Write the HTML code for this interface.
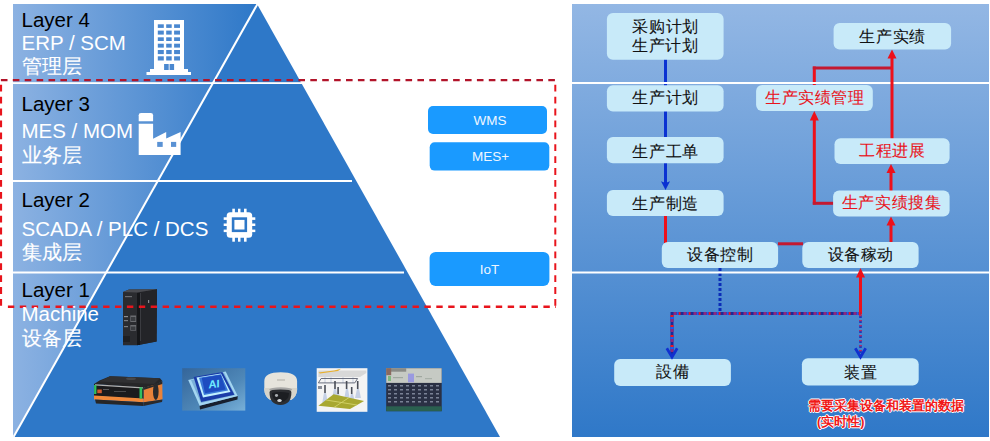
<!DOCTYPE html>
<html><head><meta charset="utf-8">
<style>
html,body{margin:0;padding:0;background:#fff;}
body{width:990px;height:441px;overflow:hidden;position:relative;font-family:"Liberation Sans",sans-serif;}
svg{position:absolute;left:0;top:0;}
.t{position:absolute;white-space:nowrap;line-height:23px;font-size:20.5px;}
.k{color:#000;}
.w{color:#fff;}
.bb{position:absolute;color:#eef6ff;font-size:13.5px;text-align:center;}
.bx{position:absolute;font-size:16px;line-height:18px;text-align:center;color:#111;white-space:nowrap;letter-spacing:0.6px;text-indent:0.6px;-webkit-text-stroke:0.1px currentColor;}
.r{color:#e8141c;}
.note{position:absolute;font-size:12.7px;line-height:16px;font-weight:bold;color:#f01818;white-space:nowrap;text-shadow:0 0 1px #fff,1px 0 0 #fff,-1px 0 0 #fff,0 1px 0 #fff,0 -1px 0 #fff;}
</style></head><body>
<svg width="990" height="441" viewBox="0 0 990 441">
<defs>
<linearGradient id="lg" x1="13" y1="0" x2="257" y2="0" gradientUnits="userSpaceOnUse">
<stop offset="0" stop-color="#8cb2e2"/><stop offset="1" stop-color="#2e78c8"/>
</linearGradient>
<linearGradient id="rg" x1="0" y1="4" x2="0" y2="437" gradientUnits="userSpaceOnUse">
<stop offset="0" stop-color="#93b7e4"/><stop offset="1" stop-color="#2f78c8"/>
</linearGradient>
</defs>
<!-- LEFT PYRAMID -->
<polygon points="13,4 257,4 500,437 13,437" fill="#2e78c8"/>
<polygon points="13,4 257,4 13,437" fill="url(#lg)"/>
<line x1="257.5" y1="4" x2="13.5" y2="437" stroke="#fff" stroke-width="2"/>
<rect x="13" y="82.2" width="289" height="1.8" fill="#fff"/>
<rect x="13" y="180" width="339" height="2" fill="#fff"/>
<rect x="13" y="271.5" width="391" height="2" fill="#fff"/>
<!-- building icon -->
<g fill="#fff">
<rect x="154" y="20" width="30" height="49.5"/>
<rect x="150" y="69" width="38" height="3.5"/>
<rect x="146.5" y="72" width="44.5" height="3"/>
</g>
<g fill="#4a88d0">
<rect x="157.8" y="24.3" width="6" height="3.6"/><rect x="166.2" y="24.3" width="5.5" height="3.6"/><rect x="174.1" y="24.3" width="5.9" height="3.6"/>
<rect x="157.8" y="30.6" width="6" height="4"/><rect x="166.2" y="30.6" width="5.5" height="4"/><rect x="174.1" y="30.6" width="5.9" height="4"/>
<rect x="157.8" y="37.3" width="6" height="3.7"/><rect x="166.2" y="37.3" width="5.5" height="3.7"/><rect x="174.1" y="37.3" width="5.9" height="3.7"/>
<rect x="157.8" y="43.7" width="6" height="3.9"/><rect x="166.2" y="43.7" width="5.5" height="3.9"/><rect x="174.1" y="43.7" width="5.9" height="3.9"/>
<rect x="157.8" y="50" width="6" height="4.1"/><rect x="166.2" y="50" width="5.5" height="4.1"/><rect x="174.1" y="50" width="5.9" height="4.1"/>
<rect x="157.8" y="56.3" width="6" height="4.2"/><rect x="166.2" y="56.3" width="5.5" height="4.2"/><rect x="174.1" y="56.3" width="5.9" height="4.2"/>
<rect x="164.1" y="64" width="4.6" height="6"/><rect x="169.6" y="64" width="4.5" height="6"/>
</g>
<!-- factory icon -->
<g fill="#fff">
<path d="M138.7,121.2 V115.3 Q138.7,113.1 141,113.1 H150.8 Q153.1,113.1 153.1,115.3 V121.2 Z"/>
<path d="M138.7,123.7 H153.1 V138.7 L166.2,131.9 V138.5 L180.6,131.9 V155 H138.7 Z"/>
</g>
<g fill="#5a92d4">
<rect x="157.2" y="141.9" width="5.5" height="5"/>
<rect x="171" y="141.9" width="5.2" height="5"/>
</g>
<!-- chip icon -->
<g fill="#fff">
<rect x="226.7" y="212.2" width="25.5" height="25.6" rx="3.5"/>
<rect x="232.3" y="208.7" width="2.6" height="33"/><rect x="238" y="208.7" width="2.5" height="33"/><rect x="244" y="208.7" width="2.6" height="33"/>
<rect x="223.7" y="217.3" width="31.6" height="2.6"/><rect x="223.7" y="223.5" width="31.6" height="2.5"/><rect x="223.7" y="229.6" width="31.6" height="2.5"/>
</g>
<rect x="233.1" y="218.6" width="12.7" height="12.2" fill="none" stroke="#2e78c8" stroke-width="2.6"/>

<!-- bottom images -->
<!-- PLC -->
<g>
<polygon points="123,292 129,289.5 157,289.2 156.6,341.6 137,345.3 123,345.3" fill="#2a2b2f"/>
<polygon points="137,292.5 157,289.2 156.6,341.6 137,345.3" fill="#232428"/>
<polygon points="123,292 129,289.5 157,289.2 137,292.5" fill="#4a4b50"/>
<rect x="137" y="293" width="3" height="52" fill="#151619"/>
<rect x="140" y="293" width="1" height="48" fill="#3a3b40"/>
<rect x="130.3" y="315.5" width="5.8" height="6.5" fill="#6a6c70"/>
<rect x="131" y="317" width="4.4" height="4" fill="#3a3c40"/>
<rect x="130.3" y="325" width="5.8" height="5.7" fill="#6a6c70"/>
<rect x="131" y="326.5" width="4.4" height="3.5" fill="#3a3c40"/>
<rect x="124" y="316" width="4" height="1.2" fill="#8a8c90"/>
<rect x="124" y="320" width="4" height="1.2" fill="#7a7c80"/>
<rect x="124" y="326" width="4" height="1.2" fill="#7a7c80"/>
<rect x="125" y="296" width="7" height="1.2" fill="#6a6c70"/>
<rect x="123" y="336" width="7" height="6" fill="#1e1f22"/>
<rect x="148" y="300" width="1.2" height="3" fill="#8a8c90"/>
</g>
<!-- AGV -->
<g>
<polygon points="94,384 99.5,380.5 110,376.3 160,378.3 162.3,381 154,386 143.5,387.5" fill="#262628"/>
<polygon points="99.5,381.5 110,376.3 160,378.3 154,384" fill="#303032"/>
<ellipse cx="131" cy="378.8" rx="5" ry="1.3" fill="#48484a"/>
<polygon points="143.5,388 162.3,382.5 162.5,399.5 143.5,402.5" fill="#e8823a"/>
<polygon points="143.5,387.5 154,385 162.3,381 162.3,384 143.5,390" fill="#2a2a2c"/>
<ellipse cx="155.8" cy="391.5" rx="2.8" ry="8.5" fill="#2a2a2c"/>
<polygon points="94,384 143.5,387 143.5,399 94,396" fill="#1b1b1d"/>
<line x1="95" y1="384.8" x2="143" y2="387.8" stroke="#b0b0b0" stroke-width="1.2"/>
<polygon points="94,395.5 143.5,398.5 143.5,402.3 94,399.5" fill="#f0883a"/>
<polygon points="95,399.5 143.5,402.3 143.5,406 96,403.5" fill="#262628"/>
<polygon points="143.5,402.3 162.5,399.5 162,402 143.5,406" fill="#2a2a2c"/>
<rect x="94.1" y="385" width="2.3" height="9" fill="#30c060"/>
<rect x="139.5" y="387.3" width="2.8" height="11.3" fill="#30c060"/>
<rect x="97.3" y="389.5" width="4.5" height="3.7" fill="#d05a30"/>
<rect x="103" y="389" width="6" height="1" fill="#5a5a5c"/>
<rect x="114" y="391" width="12" height="1" fill="#4a4a4c"/>
</g>
<!-- AI chip image -->
<g>
<defs><linearGradient id="aig" x1="0" y1="0" x2="1" y2="1"><stop offset="0" stop-color="#34659a"/><stop offset="0.6" stop-color="#4f88b8"/><stop offset="1" stop-color="#78b0d8"/></linearGradient></defs>
<rect x="182.2" y="368.2" width="63.1" height="42.4" fill="url(#aig)"/>
<polygon points="199.6,405.7 237.7,395.9 237.5,399.5 200,409.5" fill="#18202e"/>
<polygon points="188.2,380.1 225.7,371.4 237.7,395.9 199.6,405.7" fill="#a4d6f2"/>
<polygon points="191,380 224,372.5 235,395 201,403" fill="#7ab0d8"/>
<polygon points="193.6,376.9 222.4,372 234.4,394.8 201.2,401.9" fill="#1a3ca8"/>
<polygon points="196.5,377.5 221,373.5 230.5,392 203,397.5" fill="#c0f0ff"/>
<polygon points="199,377.8 221,374.3 228,390.6 204,395" fill="#3a78d8"/>
<polygon points="201.8,378 220.8,374.7 225.7,389.4 205,393.2" fill="#1d4cc0"/>
<text x="0" y="0" transform="translate(214,387.8) skewX(-8) rotate(-8)" font-family="Liberation Sans" font-weight="bold" font-size="11" fill="#70ecff" text-anchor="middle">AI</text>
</g>
<!-- camera -->
<g>
<path d="M264.3,381 Q264.3,372.3 280.7,372.3 Q297.1,372.3 297.1,381 L297.1,390 Q296.5,396.5 291.4,399.8 L270,399.8 Q264.8,396.5 264.3,390 Z" fill="#e6e4dc"/>
<path d="M264.3,388 L297.1,388 L297.1,390 Q296.5,396.5 291.4,399.8 L270,399.8 Q264.8,396.5 264.3,390 Z" fill="#d6d4ca"/>
<ellipse cx="280.7" cy="389.6" rx="11.5" ry="2.4" fill="#a8a8a6"/>
<path d="M269.5,392 Q270,389.6 280.5,389.6 Q291.4,389.6 291.4,392 Q291.4,404.9 280.5,404.9 Q269.5,404.9 269.5,392 Z" fill="#2c2e32"/>
<path d="M272,393 Q280.5,391 289,393 Q289,401 280.5,402.5 Q272,401 272,393 Z" fill="#1c1e22"/>
<ellipse cx="276.5" cy="395.5" rx="1.6" ry="1.4" fill="#a8acb0"/>
<ellipse cx="279.5" cy="400.5" rx="2.2" ry="1.5" fill="#d0d4d8"/>
<rect x="277" y="379.5" width="8" height="1" fill="#b0aea6"/>
</g>
<!-- diagram image -->
<g>
<rect x="316.7" y="368.2" width="50.7" height="43.6" fill="#f4f4f4"/>
<polygon points="318.4,370.4 366.3,370.4 366.3,373 360,377 318.4,377" fill="#d8d8d8"/>
<polygon points="318.4,372.5 334,370.5 341,368.8 338,371 320,373.5" fill="#e8b030"/>
<g stroke="#c8d0e0" stroke-width="1">
<line x1="325" y1="377" x2="325" y2="383"/><line x1="331" y1="377" x2="331" y2="383"/><line x1="343" y1="377" x2="343" y2="383"/><line x1="353" y1="377" x2="353" y2="383"/>
</g>
<polygon points="321.1,378.5 357.6,378.5 354.8,382.9 318.4,382.9" fill="none" stroke="#5a6070" stroke-width="0.9"/>
<g fill="#c0cde4" opacity="0.9">
<polygon points="324,393 326,393 328,404 322,404"/><polygon points="334,389 336,389 338,398 332,398"/><polygon points="337,394 339,394 341,400 335,400"/><polygon points="346,389 348,389 350,400 344,400"/><polygon points="351,394 353,394 355,402 349,402"/><polygon points="357,389 359,389 361,398 355,398"/>
</g>
<g fill="#4a4e58">
<rect x="324.2" y="385" width="1.6" height="8"/><rect x="334.2" y="381" width="1.6" height="8"/><rect x="337.3" y="387" width="1.6" height="7"/><rect x="345.8" y="381" width="1.6" height="8"/><rect x="350.9" y="387" width="1.6" height="7"/><rect x="356.9" y="381" width="1.6" height="8"/>
</g>
<rect x="318" y="386" width="4" height="3" fill="#8a8e98"/>
<polygon points="333.6,394.3 364.1,400.9 350,409 318.4,405.8" fill="#a8a830"/>
<line x1="326" y1="400" x2="357" y2="405" stroke="#d8d870" stroke-width="0.8"/>
<line x1="349" y1="397.6" x2="334" y2="407.4" stroke="#d8d870" stroke-width="0.8"/>
</g>
<!-- board image -->
<g>
<rect x="386.2" y="368.2" width="55.5" height="43" fill="#2a3044"/>
<rect x="386.2" y="368.2" width="55.5" height="14.7" fill="#c6cac4"/>
<rect x="386.2" y="368.2" width="20" height="3.5" fill="#8a8c88"/>
<rect x="386.2" y="368.2" width="5" height="7" fill="#8a6a60"/>
<rect x="408" y="373.6" width="6" height="8.7" fill="#9a9ae0"/>
<rect x="388" y="376" width="3" height="5" fill="#80b880"/>
<rect x="393" y="377" width="10" height="1.2" fill="#a0a8a0"/>
<rect x="416" y="376" width="6" height="1.2" fill="#a0a8a0"/>
<rect x="425" y="378" width="7" height="1.2" fill="#a8b0a8"/>
<g fill="#7a8296">
<rect x="388" y="385" width="3" height="1.5"/><rect x="394" y="385" width="3" height="1.5"/><rect x="400" y="385" width="3" height="1.5"/><rect x="406" y="385" width="3" height="1.5"/><rect x="412" y="385" width="3" height="1.5"/><rect x="418" y="385" width="3" height="1.5"/><rect x="424" y="385" width="3" height="1.5"/><rect x="430" y="385" width="3" height="1.5"/><rect x="436" y="385" width="3" height="1.5"/>
<rect x="388" y="389" width="3" height="1.5"/><rect x="394" y="389" width="3" height="1.5"/><rect x="400" y="389" width="3" height="1.5"/><rect x="406" y="389" width="3" height="1.5"/><rect x="412" y="389" width="3" height="1.5"/><rect x="418" y="389" width="3" height="1.5"/><rect x="424" y="389" width="3" height="1.5"/><rect x="430" y="389" width="3" height="1.5"/><rect x="436" y="389" width="3" height="1.5"/>
<rect x="388" y="393" width="3" height="1.5"/><rect x="394" y="393" width="3" height="1.5"/><rect x="400" y="393" width="3" height="1.5"/><rect x="406" y="393" width="3" height="1.5"/><rect x="412" y="393" width="3" height="1.5"/><rect x="418" y="393" width="3" height="1.5"/><rect x="424" y="393" width="3" height="1.5"/><rect x="430" y="393" width="3" height="1.5"/><rect x="436" y="393" width="3" height="1.5"/>
<rect x="388" y="397" width="3" height="1.5"/><rect x="394" y="397" width="3" height="1.5"/><rect x="400" y="397" width="3" height="1.5"/><rect x="406" y="397" width="3" height="1.5"/><rect x="412" y="397" width="3" height="1.5"/><rect x="418" y="397" width="3" height="1.5"/><rect x="424" y="397" width="3" height="1.5"/><rect x="430" y="397" width="3" height="1.5"/><rect x="436" y="397" width="3" height="1.5"/>
<rect x="388" y="401" width="3" height="1.5"/><rect x="394" y="401" width="3" height="1.5"/><rect x="400" y="401" width="3" height="1.5"/><rect x="406" y="401" width="3" height="1.5"/><rect x="412" y="401" width="3" height="1.5"/><rect x="418" y="401" width="3" height="1.5"/><rect x="424" y="401" width="3" height="1.5"/><rect x="430" y="401" width="3" height="1.5"/><rect x="436" y="401" width="3" height="1.5"/>
</g>
<rect x="386.2" y="406.3" width="55.5" height="4.9" fill="#2a6050"/>
</g>
<!-- red dashed rect -->
<path d="M0.9,80.1 H556" stroke="#b2142a" stroke-width="2.4" stroke-dasharray="6.6 5.3" fill="none"/>
<path d="M7.9,306.8 H556" stroke="#e8141c" stroke-width="2.6" stroke-dasharray="6.4 5.5" fill="none"/>
<path d="M1,84.8 V307.5" stroke="#e8141c" stroke-width="2.2" stroke-dasharray="6.8 5.1" fill="none"/>
<path d="M555.3,84.8 V307.5" stroke="#e8141c" stroke-width="2" stroke-dasharray="6.8 5.1" fill="none"/>
<!-- blue boxes -->
<rect x="428" y="106" width="119" height="28" rx="5" fill="#1a9aff"/>
<rect x="429.7" y="142.2" width="119.6" height="28.4" rx="5" fill="#1a9aff"/>
<rect x="429.6" y="252" width="119.8" height="34" rx="6" fill="#1a9aff"/>

<!-- RIGHT PANEL -->
<rect x="572" y="4" width="417" height="433" fill="url(#rg)"/>
<!-- blue solid lines -->
<g fill="#0a32d2">
<rect x="664" y="59" width="3" height="27"/>
<rect x="664" y="111" width="3" height="27"/>
<rect x="664" y="163" width="3" height="23"/>
<polygon points="661,181.3 665.5,183 670,181.3 665.5,190"/>
</g>
<!-- blue dotted -->
<path d="M720,268 V312" stroke="#0b2db8" stroke-width="3" stroke-dasharray="3 2" fill="none"/>
<!-- red lines (under separators) -->
<rect x="664" y="216" width="3" height="27" fill="#ee101a"/>
<rect x="812.8" y="66.5" width="3" height="19" fill="#ee101a"/>
<rect x="812.8" y="66.5" width="80" height="3" fill="#c41830"/>
<!-- separators -->
<rect x="572" y="82" width="417" height="2" fill="#fff"/>
<rect x="572" y="271.5" width="417" height="2" fill="#fff"/>
<!-- red lines (over separators) -->
<g fill="#ee101a">
<rect x="859" y="276" width="3" height="38.5"/>
<polygon points="860.5,268 856,277.5 865,277.5"/>
<rect x="889.5" y="224" width="3" height="19"/>
<polygon points="891,216.5 886.5,225.5 895.5,225.5"/>
<rect x="889.5" y="172" width="3" height="19"/>
<polygon points="891,164 886.5,173 895.5,173"/>
<rect x="890.5" y="57" width="3" height="82"/>
<polygon points="892,49.5 887.5,58.5 896.5,58.5"/>
<rect x="812.8" y="119" width="3" height="85.5"/>
<polygon points="814.3,111 809.8,120.5 818.8,120.5"/>
</g>
<rect x="812.8" y="201.8" width="21" height="3" fill="#c41830"/>
<rect x="778" y="242.3" width="25" height="3" fill="#c41830"/>
<!-- boxes -->
<g fill="#c8eaf9">
<rect x="606.9" y="12.9" width="116.7" height="46.9" rx="6"/>
<rect x="606.9" y="85.3" width="116.7" height="26.2" rx="6"/>
<rect x="606.9" y="137.1" width="116.7" height="26.2" rx="6"/>
<rect x="606.9" y="190.1" width="116.7" height="25.9" rx="6"/>
<rect x="661.8" y="242.1" width="116.3" height="25.9" rx="6"/>
<rect x="802.3" y="242.1" width="116.3" height="25.9" rx="6"/>
<rect x="833.6" y="22.9" width="117.5" height="26.5" rx="6"/>
<rect x="756.1" y="85.1" width="116.7" height="26.0" rx="6"/>
<rect x="834.5" y="138.2" width="115.1" height="25.8" rx="6"/>
<rect x="833.1" y="190.4" width="116.5" height="26.1" rx="6"/>
<rect x="614.2" y="359.1" width="116.7" height="26.9" rx="6"/>
<rect x="801.9" y="358.3" width="116.8" height="27.1" rx="6"/>
</g>
<!-- mixed dotted -->
<g fill="none" stroke-width="3">
<path d="M860.5,313.6 H672 V356" stroke="#1c2a98"/>
<path d="M860.5,313.6 H672 V356" stroke="#ee1420" stroke-dasharray="2 8"/>
<path d="M860.5,313.6 H672 V356" stroke="#1a5cf0" stroke-dasharray="0 2 2 6"/>
<path d="M860.5,313.6 H672 V356" stroke="#8a2a80" stroke-dasharray="0 4 3 3"/>
<path d="M860.5,315 V356" stroke="#1a3ab8" stroke-width="2.6" stroke-dasharray="3 2"/>
<path d="M860.5,315 V356" stroke="#c02a60" stroke-width="2.6" stroke-dasharray="1.2 3.8"/>
</g>
<path d="M666.8,348.3 L672,357 L677.2,348.3" stroke="#1030d0" stroke-width="2.8" fill="none"/>
<path d="M855.3,348.3 L860.5,357 L865.7,348.3" stroke="#1030d0" stroke-width="2.8" fill="none"/>
</svg>

<div class="t k" style="left:21.5px;top:8.2px">Layer 4</div>
<div class="t w" style="left:21.5px;top:31.3px">ERP / SCM</div>
<div class="t w" style="left:21.5px;top:54.7px;font-size:20.2px;-webkit-text-stroke:0.15px #fff">管理层</div>
<div class="t k" style="left:21.5px;top:92.3px">Layer 3</div>
<div class="t w" style="left:21.5px;top:119.2px">MES / MOM</div>
<div class="t w" style="left:21.5px;top:144px;font-size:20.2px;-webkit-text-stroke:0.15px #fff">业务层</div>
<div class="t k" style="left:21.5px;top:188.2px">Layer 2</div>
<div class="t w" style="left:21.5px;top:216.5px">SCADA / PLC / DCS</div>
<div class="t w" style="left:21.5px;top:241.3px;font-size:20.2px;-webkit-text-stroke:0.15px #fff">集成层</div>
<div class="t k" style="left:21.5px;top:278.2px">Layer 1</div>
<div class="t w" style="left:21.5px;top:302.2px">Machine</div>
<div class="t w" style="left:21.5px;top:327.3px;font-size:20.2px;-webkit-text-stroke:0.15px #fff">设备层</div>


<div class="bb" style="left:430.5px;top:111.5px;width:119px;line-height:18px">WMS</div>
<div class="bb" style="left:430.7px;top:148px;width:119.6px;line-height:18px">MES+</div>
<div class="bb" style="left:429.6px;top:261px;width:119.8px;line-height:18px">IoT</div>

<div class="bx" style="left:606.9px;top:17px;width:116.7px;line-height:19px">采购计划<br>生产计划</div>
<div class="bx" style="left:606.9px;top:89px;width:116.7px">生产计划</div>
<div class="bx" style="left:606.9px;top:142.5px;width:116.7px">生产工单</div>
<div class="bx" style="left:606.9px;top:194.5px;width:116.7px">生产制造</div>
<div class="bx" style="left:661.8px;top:246px;width:116.3px">设备控制</div>
<div class="bx" style="left:802.3px;top:246px;width:116.3px">设备稼动</div>
<div class="bx" style="left:833.6px;top:27.5px;width:117.5px">生产实绩</div>
<div class="bx r" style="left:756.1px;top:89px;width:116.7px">生产实绩管理</div>
<div class="bx r" style="left:834.5px;top:142px;width:115px">工程进展</div>
<div class="bx r" style="left:833.1px;top:194px;width:116.5px">生产实绩搜集</div>
<div class="bx" style="left:614.2px;top:363px;width:116.7px">設備</div>
<div class="bx" style="left:801.9px;top:363.5px;width:116.8px">装置</div>
<div class="note" style="left:808px;top:398px">需要采集设备和装置的数据</div>
<div class="note" style="left:817px;top:414.3px">(实时性)</div>
</body></html>
